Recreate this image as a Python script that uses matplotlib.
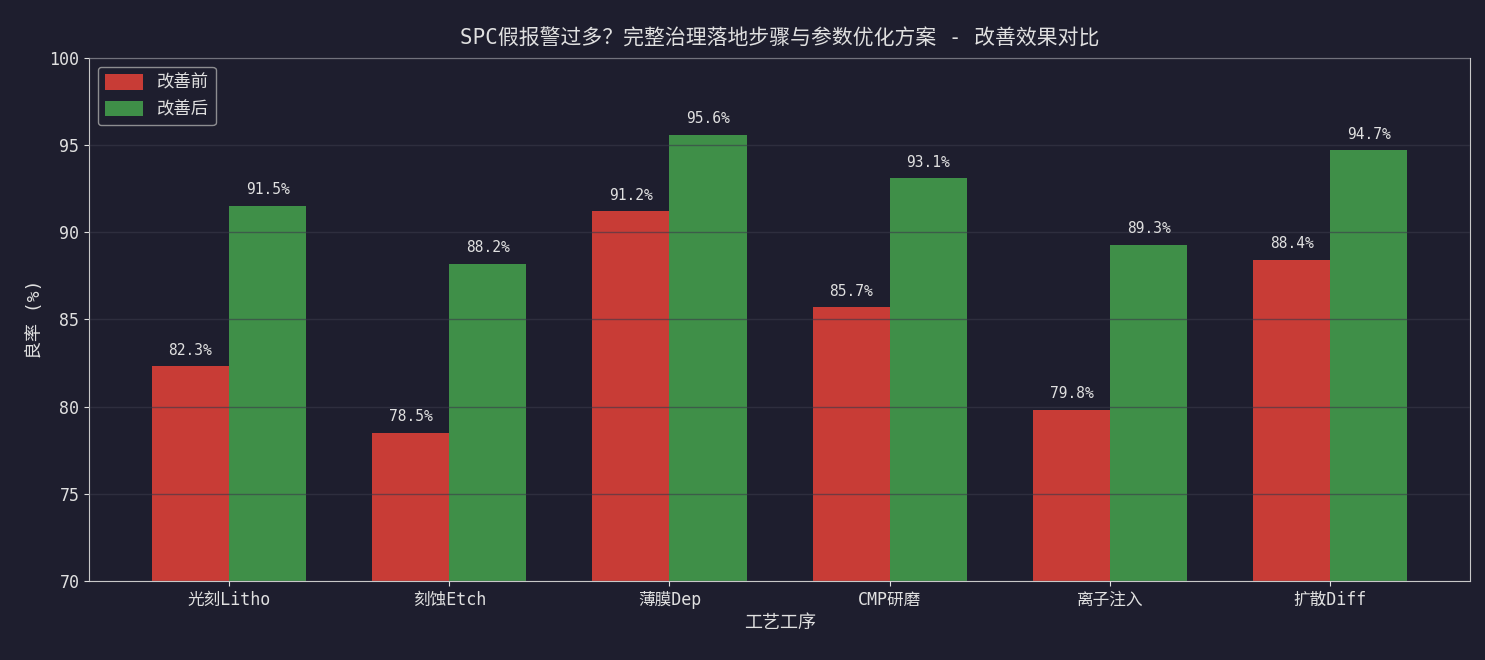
import numpy as np
import matplotlib
matplotlib.use('Agg')
import matplotlib.pyplot as plt

plt.rcParams['font.family'] = ['DejaVu Sans Mono', 'Noto Sans CJK SC']

# ── Data ──────────────────────────────────────────────
processes = ['光刻Litho', '刻蚀Etch', '薄膜Dep', 'CMP研磨', '离子注入', '扩散Diff']
before = [82.3, 78.5, 91.2, 85.7, 79.8, 88.4]
after = [91.5, 88.2, 95.6, 93.1, 89.3, 94.7]

BG = '#1e1e2e'
FG = '#e0e0e0'
RED = '#c83c36'
GREEN = '#3f8f48'

fig, ax = plt.subplots(figsize=(14.85, 6.6), dpi=100)
fig.patch.set_facecolor(BG)
ax.set_facecolor(BG)

x = np.arange(len(processes))
w = 0.35
b1 = ax.bar(x - w / 2, before, w, color=RED, label='改善前')
b2 = ax.bar(x + w / 2, after, w, color=GREEN, label='改善后')

# value labels above each bar
for bars in (b1, b2):
    for rect in bars:
        h = rect.get_height()
        ax.text(rect.get_x() + rect.get_width() / 2, h + 0.5, f'{h:.1f}%',
                ha='center', va='bottom', color=FG, fontsize=10.5)

ax.set_ylim(70, 100)
ax.set_xticks(x)
ax.set_xticklabels(processes, fontsize=12)
ax.tick_params(colors=FG, labelsize=12)
ax.set_xlabel('工艺工序', color=FG, fontsize=13)
ax.set_ylabel('良率 (%)', color=FG, fontsize=13)
ax.set_title('SPC假报警过多？完整治理落地步骤与参数优化方案 - 改善效果对比',
             color=FG, fontsize=15, pad=10)

for sp in ax.spines.values():
    sp.set_color('#c8c8c8')
ax.set_axisbelow(False)
ax.yaxis.grid(True, color='#3a3a4a', alpha=0.6, lw=1)

ax.legend(loc='upper left', fontsize=12.5, facecolor=BG, edgecolor='#aaaaaa',
          labelcolor=FG, handlelength=2.2, handleheight=1.0)

plt.subplots_adjust(left=0.06, right=0.99, top=0.912, bottom=0.12)
fig.savefig('out.png', facecolor=BG)
